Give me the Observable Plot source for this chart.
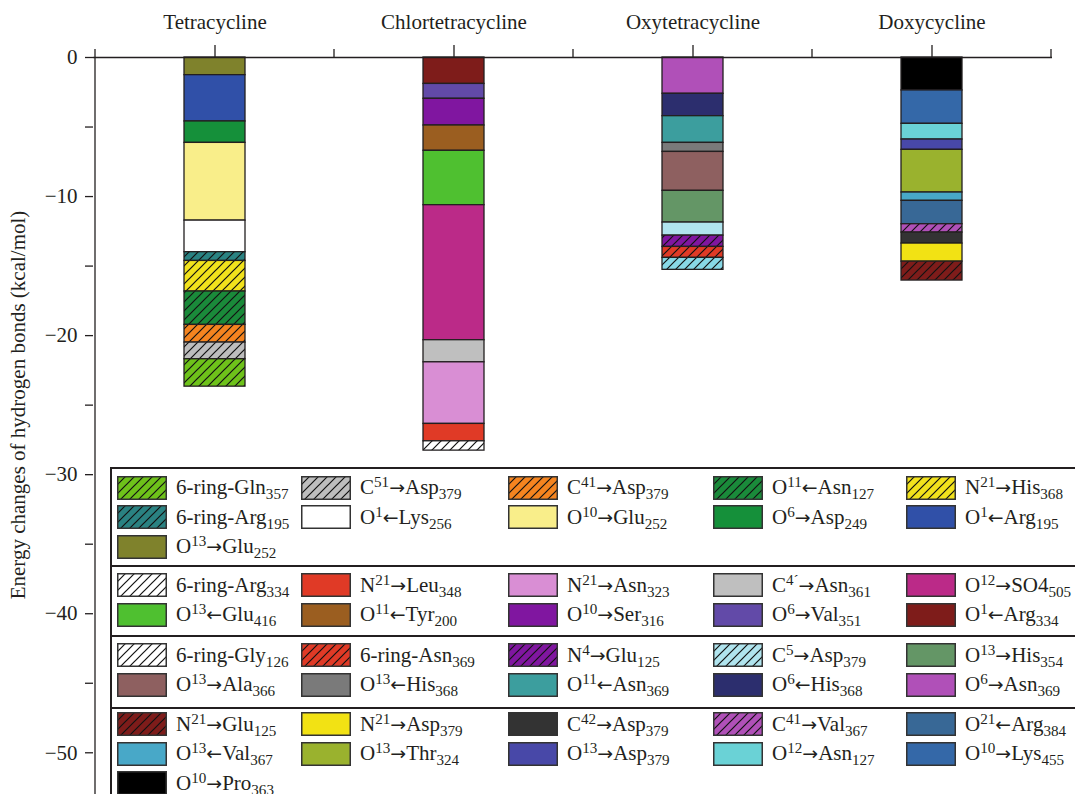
<!DOCTYPE html>
<html>
<head>
<meta charset="utf-8">
<script src="https://cdn.jsdelivr.net/npm/d3@7"></script>
<script src="https://cdn.jsdelivr.net/npm/@observablehq/plot@0.6"></script>
<style>
  html, body { margin: 0; padding: 0; background: #fff; overflow: hidden; }
  #wrap { position: relative; width: 1075px; height: 794px; overflow: hidden;
          font-family: "Liberation Serif", "DejaVu Serif", serif; color: #231f20; }
  #legend { position: absolute; left: 110px; top: 467px; width: 990px;
            border: 2px solid #231f20; background: #fff; }
  .grp { position: relative; }
  .grp + .grp { border-top: 2px solid #231f20; }
  .row { position: relative; height: 29.5px; }
  .item { position: absolute; top: 0; height: 29.5px; display: flex; align-items: center;
          white-space: nowrap; font-size: 21px; }
  .item svg { flex: none; margin-right: 9px; }
  .arrow { font-family: "DejaVu Sans", sans-serif; font-size: 0.9em; }
  sub, sup { font-size: 0.72em; line-height: 0; }
  sub { vertical-align: -0.32em; }
  sup { vertical-align: 0.48em; }
</style>
</head>
<body>
<div id="wrap"><div id="legend"></div></div>
<script>
// Drugs along the top axis
const drugs = ["Tetracycline", "Chlortetracycline", "Oxytetracycline", "Doxycycline"];

// Hydrogen-bond contributions (kcal/mol), listed from the top of each stack down
const tetracyclineLabels = ["O^{13}→Glu_{252}", "O^{1}←Arg_{195}", "O^{6}→Asp_{249}", "O^{10}→Glu_{252}",
  "O^{1}←Lys_{256}", "6-ring-Arg_{195}", "N^{21}→His_{368}", "O^{11}←Asn_{127}", "C^{41}→Asp_{379}",
  "C^{51}→Asp_{379}", "6-ring-Gln_{357}"];
const tetracyclineValues = [-1.27, -3.33, -1.54, -5.59, -2.27, -0.63, -2.20, -2.40, -1.27, -1.20, -1.97];

const chlortetracyclineLabels = ["O^{1}←Arg_{334}", "O^{6}→Val_{351}", "O^{10}→Ser_{316}", "O^{11}←Tyr_{200}",
  "O^{13}←Glu_{416}", "O^{12}→SO4_{505}", "C^{4´}→Asn_{361}", "N^{21}→Asn_{323}", "N^{21}→Leu_{348}",
  "6-ring-Arg_{334}"];
const chlortetracyclineValues = [-1.90, -1.07, -1.92, -1.82, -3.91, -9.71, -1.59, -4.43, -1.25, -0.67];

const oxytetracyclineLabels = ["O^{6}→Asn_{369}", "O^{6}←His_{368}", "O^{11}←Asn_{369}", "O^{13}←His_{368}",
  "O^{13}→Ala_{366}", "O^{13}→His_{354}", "C^{5}→Asp_{379}", "N^{4}→Glu_{125}", "6-ring-Asn_{369}",
  "6-ring-Gly_{126}"];
const oxytetracyclineValues = [-2.61, -1.61, -1.92, -0.65, -2.80, -2.28, -0.94, -0.81, -0.79, -0.86];

const doxycyclineLabels = ["O^{10}→Pro_{363}", "O^{10}→Lys_{455}", "O^{12}→Asn_{127}", "O^{13}→Asp_{379}",
  "O^{13}→Thr_{324}", "O^{13}←Val_{367}", "O^{21}←Arg_{384}", "C^{41}→Val_{367}", "C^{42}→Asp_{379}",
  "N^{21}→Asp_{379}", "N^{21}→Glu_{125}"];
const doxycyclineValues = [-2.37, -2.40, -1.13, -0.74, -3.07, -0.60, -1.68, -0.60, -0.79, -1.30, -1.36];

// Segment colours and hatching, same order as the labels
const tetracyclineColors = ["#7f822c", "#3050a8", "#15903a", "#f9ee8a", "#ffffff", "#2a8282", "#f2e21c",
  "#1a8a3a", "#f5841f", "#bdbdbd", "#6ec21a"];
const tetracyclineHatch = [0, 0, 0, 0, 0, 1, 1, 1, 1, 1, 1];
const chlortetracyclineColors = ["#7e1c1a", "#624aa8", "#8016a0", "#9b5e20", "#4fc030", "#bb2a88", "#bfbfbf",
  "#d98ed4", "#e03a26", "#ffffff"];
const chlortetracyclineHatch = [0, 0, 0, 0, 0, 0, 0, 0, 0, 1];
const oxytetracyclineColors = ["#b050b8", "#2c2e6e", "#3c9e9e", "#7a7a7a", "#8e6060", "#649666", "#b0e4ee",
  "#8016a0", "#e03a26", "#88d8e6"];
const oxytetracyclineHatch = [0, 0, 0, 0, 0, 0, 0, 1, 1, 1];
const doxycyclineColors = ["#000000", "#3468a8", "#6ad2d6", "#4848a8", "#9ab22e", "#48a8c8", "#386896",
  "#b050b8", "#333333", "#f2e214", "#7e1c1a"];
const doxycyclineHatch = [0, 0, 0, 0, 0, 0, 0, 1, 0, 0, 1];

// Legend swatches that differ from the bar fill
const legendOverrides = {
  "6-ring-Gly_{126}": {color: "#ffffff", hatch: 1},
  "C^{5}→Asp_{379}": {color: "#b0e4ee", hatch: 1}
};

// Y-axis ticks
const majorTicks = [0, -10, -20, -30, -40, -50];
const minorTicks = [-5, -15, -25, -35, -45];

const groups = [
  {drug: drugs[0], labels: tetracyclineLabels, values: tetracyclineValues, colors: tetracyclineColors, hatch: tetracyclineHatch},
  {drug: drugs[1], labels: chlortetracyclineLabels, values: chlortetracyclineValues, colors: chlortetracyclineColors, hatch: chlortetracyclineHatch},
  {drug: drugs[2], labels: oxytetracyclineLabels, values: oxytetracyclineValues, colors: oxytetracyclineColors, hatch: oxytetracyclineHatch},
  {drug: drugs[3], labels: doxycyclineLabels, values: doxycyclineValues, colors: doxycyclineColors, hatch: doxycyclineHatch}
];
// Vertical padding (top, bottom) of each legend block
const legendPadding = [[4, 3], [4, 5], [4, 7], [1, 5]];

const ink = "#231f20";
const hatchId = c => "hatch-" + c.slice(1);
const fillOf = (color, hatch) => hatch ? `url(#${hatchId(color)})` : color;

const table = [];
const keys = [], fills = [];
const hatchColors = new Set();
for (const g of groups) {
  g.labels.forEach((label, i) => {
    const key = g.drug + "|" + label;
    table.push({drug: g.drug, label, value: g.values[i], key});
    keys.push(key);
    fills.push(fillOf(g.colors[i], g.hatch[i]));
    if (g.hatch[i]) hatchColors.add(g.colors[i]);
  });
}
for (const o of Object.values(legendOverrides)) if (o.hatch) hatchColors.add(o.color);

const minus = d => d === 0 ? "0" : (d < 0 ? "\u2212" : "") + Math.abs(d);

const plot = Plot.plot({
  width: 1075,
  height: 794,
  marginTop: 57,
  marginLeft: 93,
  marginRight: 23,
  marginBottom: 0,
  style: {fontFamily: "'Liberation Serif', 'DejaVu Serif', serif", fontSize: "21px", color: ink, background: "#fff"},
  x: {domain: drugs, paddingInner: 0.7456, paddingOuter: 0.3728, axis: null, label: null},
  y: {domain: [-53, 0], axis: null, label: null},
  color: {type: "ordinal", domain: keys, range: fills},
  marks: [
    Plot.barY(table, {x: "drug", y: "value", fill: "key", stroke: ink, strokeWidth: 1.3}),
    Plot.ruleY([0], {stroke: ink, strokeWidth: 1.3}),
    Plot.axisX({anchor: "top", tickSize: 13, tickPadding: 16, fontSize: 21, stroke: ink, strokeWidth: 1.3}),
    Plot.axisY({ticks: majorTicks, tickSize: 8, tickPadding: 8, tickFormat: minus, fontSize: 21, stroke: ink, strokeWidth: 1.3}),
    Plot.axisY({ticks: minorTicks, tickSize: 8, tickFormat: () => "", stroke: ink, strokeWidth: 1.3})
  ]
});

const svg = d3.select(plot);

// Diagonal hatch patterns
const defs = svg.insert("defs", ":first-child");
for (const c of hatchColors) {
  const p = defs.append("pattern").attr("id", hatchId(c))
    .attr("patternUnits", "userSpaceOnUse").attr("width", 9).attr("height", 9);
  p.append("rect").attr("width", 9).attr("height", 9).attr("fill", c);
  p.append("path").attr("d", "M-2.25,2.25l4.5,-4.5M0,9l9,-9M6.75,11.25l4.5,-4.5")
    .attr("stroke", "#111").attr("stroke-width", 1.2);
}

// Category boundary ticks on the top axis
const xs = plot.scale("x");
const ys = plot.scale("y");
const bw = xs.bandwidth;
const step = xs.step ?? (xs.apply(drugs[1]) - xs.apply(drugs[0]));
const edges = drugs.map(d => xs.apply(d) + bw / 2 - step / 2);
edges.push(xs.apply(drugs[drugs.length - 1]) + bw / 2 + step / 2);
const y0 = ys.apply(0);
svg.append("g").attr("stroke", ink).attr("stroke-width", 1.3)
  .selectAll("line").data(edges).join("line")
  .attr("x1", d => d).attr("x2", d => d).attr("y1", y0).attr("y2", y0 - 8);

// Left axis line
svg.append("line").attr("stroke", ink).attr("stroke-width", 1.3)
  .attr("x1", edges[0]).attr("x2", edges[0]).attr("y1", y0).attr("y2", 794);

// Y-axis title
svg.append("text")
  .attr("transform", "translate(20,405) rotate(-90)")
  .attr("text-anchor", "middle").attr("dominant-baseline", "middle")
  .attr("fill", ink).attr("font-size", 21)
  .text("Energy changes of hydrogen bonds (kcal/mol)");

document.getElementById("wrap").prepend(plot);

// Legend: one block per drug, entries from the bottom of the stack upward
const toHTML = s => s
  .replace(/_\{([^}]*)\}/g, "<sub>$1</sub>")
  .replace(/\^\{([^}]*)\}/g, "<sup>$1</sup>")
  .replace(/([→←])/g, '<span class="arrow">$1</span>');
const colLeft = [5, 189, 396, 601, 794];
const legend = d3.select("#legend");
groups.forEach((g, gi) => {
  const items = g.labels.map((label, i) => {
    const o = legendOverrides[label];
    return {label, fill: o ? fillOf(o.color, o.hatch) : fillOf(g.colors[i], g.hatch[i])};
  }).reverse();
  const grp = legend.append("div").attr("class", "grp")
    .style("padding-top", legendPadding[gi][0] + "px")
    .style("padding-bottom", legendPadding[gi][1] + "px");
  for (let r = 0; r < Math.ceil(items.length / 5); r++) {
    const row = grp.append("div").attr("class", "row");
    items.slice(r * 5, r * 5 + 5).forEach((it, c) => {
      const item = row.append("div").attr("class", "item").style("left", colLeft[c] + "px");
      const sw = item.append("svg").attr("width", 50).attr("height", 24);
      sw.append("rect").attr("x", 0.75).attr("y", 0.75).attr("width", 48.5).attr("height", 22.5)
        .attr("fill", it.fill).attr("stroke", "#333").attr("stroke-width", 1.5);
      item.append("span").html(toHTML(it.label));
    });
  }
});
</script>
</body>
</html>
